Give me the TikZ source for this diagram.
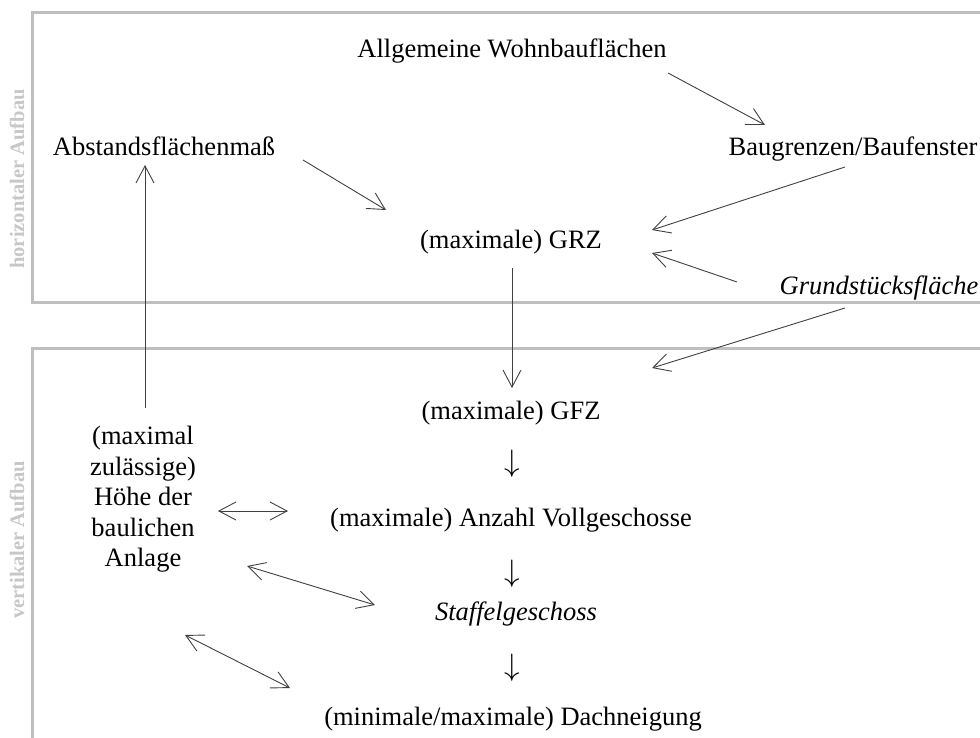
\RequirePackage{fix-cm}
\documentclass[tikz,border=0pt]{standalone}
\usepackage{fontspec}
\setmainfont{Liberation Serif}
\usetikzlibrary{arrows.meta}
\begin{document}
\begin{tikzpicture}[x=1pt,y=-1pt,
  lbl/.style={font=\fontsize{26.5}{30.5}\selectfont, anchor=base, inner sep=0pt, align=center},
  downarr/.style={font=\fontsize{31}{31}\selectfont, anchor=base, inner sep=0pt},
  tipv/.tip={Straight Barb[length=17pt,width=18pt]},
  arr/.style={draw=black!75, line width=0.9pt, -tipv},
  darr/.style={draw=black!75, line width=0.9pt, tipv-tipv},
  frameline/.style={draw=black!25, line width=3pt},
  side/.style={font=\fontsize{20.5}{24}\selectfont\bfseries, text=black!22, rotate=90, inner sep=0pt}]
\useasboundingbox (0,0) rectangle (980,738);
% frames
\draw[frameline] (982,13) -- (32,13) -- (32,302) -- (982,302);
\draw[frameline] (982,348) -- (32,348) -- (32,740);
\node[side] (hside) at (17,179) {horizontaler Aufbau};
\node[side] (vside) at (17,540) {vertikaler Aufbau};
% nodes
\node[lbl] (allg) at (512,58) {Allgemeine Wohnbauflächen};
\node[lbl] (abst) at (164,156) {Abstandsflächenmaß};
\node[lbl] (baug) at (853,156) {Baugrenzen/Baufenster};
\node[lbl] (grz) at (511,249) {(maximale) GRZ};
\node[lbl] (grund) at (879,294) {\itshape Grundstücksfläche};
\node[lbl] (gfz) at (511,419) {(maximale) GFZ};
\node[lbl, anchor=north] (hoehe) at (143,426) {(maximal\\zulässige)\\Höhe der\\baulichen\\Anlage};
\node[downarr] (pf1) at (512,471) {$\downarrow$};
\node[lbl] (anz) at (511,526) {(maximale) Anzahl Vollgeschosse};
\node[downarr] (pf2) at (512,581) {$\downarrow$};
\node[lbl] (staf) at (516,620) {\itshape Staffelgeschoss};
\node[downarr] (pf3) at (512,675) {$\downarrow$};
\node[lbl] (dach) at (513,725) {(minimale/maximale) Dachneigung};
% connector end points
\coordinate (a1s) at (668,73);  \coordinate (a1e) at (765,125);
\coordinate (a2s) at (303,160); \coordinate (a2e) at (386,210);
\coordinate (a3s) at (845,167); \coordinate (a3e) at (652,230);
\coordinate (a4s) at (737,282); \coordinate (a4e) at (652,253);
\coordinate (a5s) at (845,308); \coordinate (a5e) at (652,368);
\coordinate (a6s) at (512,268); \coordinate (a6e) at (512,388);
\coordinate (a7s) at (145,408); \coordinate (a7e) at (145,165);
\coordinate (a8s) at (218,511); \coordinate (a8e) at (288,511);
\coordinate (a9s) at (247,566); \coordinate (a9e) at (375,605);
\coordinate (a10s) at (185,635); \coordinate (a10e) at (290,688);
\draw[arr] (a1s) -- (a1e);
\draw[arr] (a2s) -- (a2e);
\draw[arr] (a3s) -- (a3e);
\draw[arr] (a4s) -- (a4e);
\draw[arr] (a5s) -- (a5e);
\draw[arr] (a6s) -- (a6e);
\draw[arr] (a7s) -- (a7e);
\draw[darr] (a8s) -- (a8e);
\draw[darr] (a9s) -- (a9e);
\draw[darr] (a10s) -- (a10e);
\end{tikzpicture}
\end{document}
